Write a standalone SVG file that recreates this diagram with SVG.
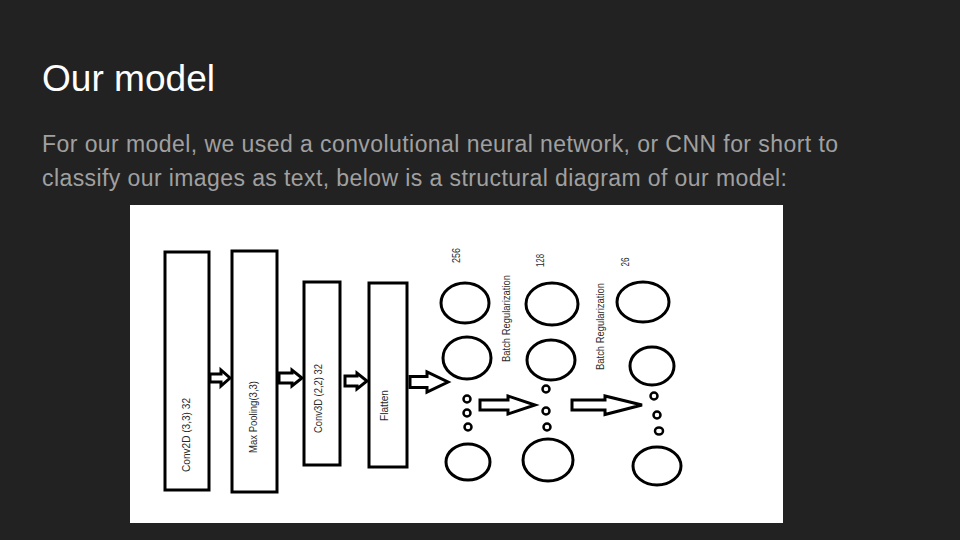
<svg xmlns="http://www.w3.org/2000/svg" width="960" height="540" viewBox="0 0 960 540">
<style>
.title{font-family:"Liberation Sans",Arial,sans-serif;font-size:36px;fill:#ffffff}
.para{font-family:"Liberation Sans",Arial,sans-serif;font-size:23px;fill:#a0a0a0}
.box{fill:#ffffff;stroke:#000;stroke-width:3}
.neu{fill:none;stroke:#000;stroke-width:3}
.dot{fill:none;stroke:#000;stroke-width:2.5}
.arr{fill:#ffffff;stroke:#000;stroke-width:3;stroke-linejoin:miter}
.lbl{font-family:"Liberation Sans",Arial,sans-serif;font-size:10px;fill:#2a2a2a}
</style>
<rect width="960" height="540" fill="#222222"/>
<text class="title" x="42" y="91" textLength="173" lengthAdjust="spacingAndGlyphs">Our model</text>
<text class="para" x="42" y="152" textLength="796" lengthAdjust="spacing">For our model, we used a convolutional neural network, or CNN for short to</text>
<text class="para" x="42" y="186" textLength="745" lengthAdjust="spacing">classify our images as text, below is a structural diagram of our model:</text>
<rect x="130" y="205" width="653" height="318" fill="#ffffff"/>

<g id="conv2d">
<rect class="box" x="165" y="252" width="44" height="238"/>
<text class="lbl" transform="translate(190,435) rotate(-90)" text-anchor="middle" textLength="74" lengthAdjust="spacingAndGlyphs">Conv2D  (3,3)  32</text>
</g>
<g id="maxpool">
<rect class="box" x="232" y="251" width="45" height="241"/>
<text class="lbl" transform="translate(257,417) rotate(-90)" text-anchor="middle" textLength="72" lengthAdjust="spacingAndGlyphs">Max Pooling(3,3)</text>
</g>
<g id="conv3d">
<rect class="box" x="304" y="282" width="36" height="183"/>
<text class="lbl" transform="translate(322,398.5) rotate(-90)" text-anchor="middle" textLength="69" lengthAdjust="spacingAndGlyphs">Conv3D (2,2)  32</text>
</g>
<g id="flatten">
<rect class="box" x="369" y="283" width="38" height="184"/>
<text class="lbl" transform="translate(388,405.5) rotate(-90)" text-anchor="middle" textLength="31" lengthAdjust="spacingAndGlyphs">Flatten</text>
</g>

<g id="layer256">
<text class="lbl" transform="translate(460,255.5) rotate(-90)" text-anchor="middle" textLength="15" lengthAdjust="spacingAndGlyphs">256</text>
<ellipse class="neu" cx="465" cy="303" rx="24" ry="20"/>
<ellipse class="neu" cx="467" cy="358" rx="24" ry="21"/>
<ellipse class="dot" cx="467" cy="399" rx="3.5" ry="3.5"/>
<ellipse class="dot" cx="467" cy="413" rx="3.5" ry="3.5"/>
<ellipse class="dot" cx="468" cy="427" rx="3.5" ry="3.5"/>
<ellipse class="neu" cx="468" cy="462" rx="22" ry="18"/>
</g>
<g id="batchreg1">
<text class="lbl" transform="translate(510,318.5) rotate(-90)" text-anchor="middle" textLength="87" lengthAdjust="spacingAndGlyphs">Batch Regularization</text>
</g>
<g id="layer128">
<text class="lbl" transform="translate(544,260.5) rotate(-90)" text-anchor="middle" textLength="13" lengthAdjust="spacingAndGlyphs">128</text>
<ellipse class="neu" cx="552" cy="304" rx="26" ry="21"/>
<ellipse class="neu" cx="551" cy="360" rx="24" ry="20"/>
<ellipse class="dot" cx="546" cy="389" rx="3.5" ry="3.5"/>
<ellipse class="dot" cx="546" cy="411" rx="3.5" ry="3.5"/>
<ellipse class="dot" cx="547" cy="427" rx="3.5" ry="3.5"/>
<ellipse class="neu" cx="548" cy="460" rx="25" ry="21"/>
</g>
<g id="batchreg2">
<text class="lbl" transform="translate(604,326.5) rotate(-90)" text-anchor="middle" textLength="87" lengthAdjust="spacingAndGlyphs">Batch Regularization</text>
</g>
<g id="layer26">
<text class="lbl" transform="translate(629,262) rotate(-90)" text-anchor="middle" textLength="9" lengthAdjust="spacingAndGlyphs">26</text>
<ellipse class="neu" cx="643" cy="302" rx="26" ry="20"/>
<ellipse class="neu" cx="652" cy="366" rx="22" ry="19"/>
<ellipse class="dot" cx="654" cy="396" rx="3.5" ry="3.5"/>
<ellipse class="dot" cx="657" cy="415" rx="3.5" ry="3.5"/>
<ellipse class="dot" cx="659" cy="431" rx="4" ry="3.5"/>
<ellipse class="neu" cx="657" cy="466" rx="24" ry="19"/>
</g>

<g id="connectors">
<path class="arr" d="M210 374 L221 374 L221 370 L230 378 L221 386 L221 382 L210 382 Z"/>
<path class="arr" d="M279 373 L292 373 L292 370 L302 378 L292 386 L292 383 L279 383 Z"/>
<path class="arr" d="M345 376 L357 376 L357 373 L367 381 L357 389 L357 386 L345 386 Z"/>
<path class="arr" d="M410 376.5 L427 376.5 L427 372 L448 382 L427 392 L427 387.5 L410 387.5 Z"/>
<path class="arr" d="M480 400 L508 400 L508 396 L535 405 L508 414 L508 410 L480 410 Z"/>
<path class="arr" d="M572 400 L605 400 L605 396 L642 405 L605 414.5 L605 410 L572 410 Z"/>
</g>
</svg>
